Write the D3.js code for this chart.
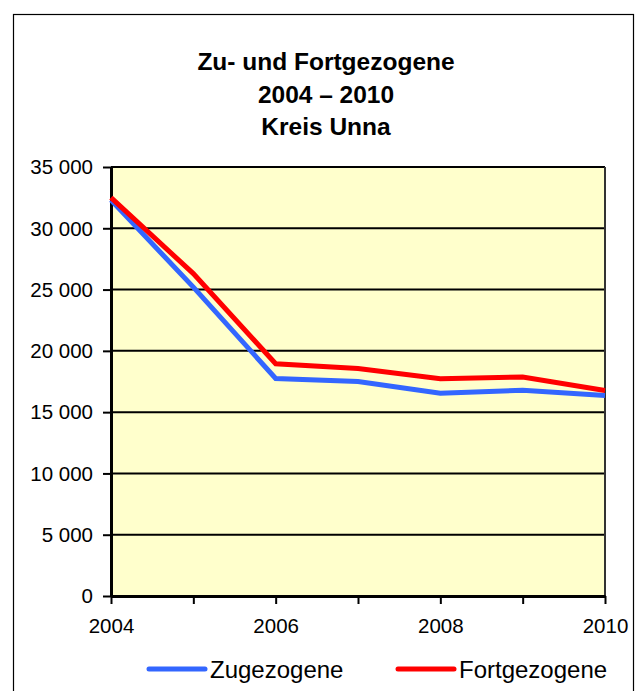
<!DOCTYPE html>
<html><head><meta charset="utf-8">
<script src="https://cdn.jsdelivr.net/npm/d3@7"></script>
<style>body{margin:0;background:#fff}svg{display:block}</style>
</head><body>
<script>
const years = [2004, 2005, 2006, 2007, 2008, 2009, 2010];
const zugezogene = [32300, 25200, 17750, 17500, 16550, 16780, 16350];
const fortgezogene = [32500, 26300, 18950, 18560, 17720, 17870, 16770];
const yTicks = [0, 5000, 10000, 15000, 20000, 25000, 30000, 35000];
const xTickLabels = [2004, 2006, 2008, 2010];
const titleLines = ["Zu- und Fortgezogene", "2004 \u2013 2010", "Kreis Unna"];
const seriesNames = ["Zugezogene", "Fortgezogene"];
const seriesColors = ["#3366FF", "#FF0000"];

const W = 643, H = 691;
const svg = d3.select("body").append("svg").attr("width", W).attr("height", H);
const font = "'Liberation Sans', Arial, sans-serif";

svg.append("rect").attr("x", 13.5).attr("y", 14.5).attr("width", 620).attr("height", 690)
  .attr("fill", "#fff").attr("stroke", "#000").attr("stroke-width", 1.2);

const x = d3.scaleLinear().domain([2004, 2010]).range([111, 605]);
const y = d3.scaleLinear().domain([0, 35000]).range([596, 167]);

svg.append("rect").attr("x", x(2004)).attr("y", y(35000))
  .attr("width", x(2010) - x(2004)).attr("height", y(0) - y(35000)).attr("fill", "#FFFFCC");

// title
svg.append("g").selectAll("text").data(titleLines).join("text")
  .attr("x", 326).attr("y", (d, i) => 70 + i * 32.5)
  .attr("text-anchor", "middle").attr("font-family", font).attr("font-weight", "bold")
  .attr("font-size", 24.5).text(d => d);

// grid
svg.append("g").selectAll("line").data(yTicks.filter(d => d > 0)).join("line")
  .attr("x1", x(2004)).attr("x2", x(2010)).attr("y1", d => y(d)).attr("y2", d => y(d))
  .attr("stroke", "#000").attr("stroke-width", 2);
svg.append("line").attr("x1", x(2010)).attr("x2", x(2010)).attr("y1", y(35000)).attr("y2", y(0))
  .attr("stroke", "#333").attr("stroke-width", 2);

// y axis
const yAxis = d3.axisLeft(y).tickValues(yTicks).tickSize(8).tickSizeOuter(0)
  .tickFormat(d => d3.format(",")(d).replace(/,/g, " "));
const gy = svg.append("g").attr("transform", `translate(${x(2004)},0)`).call(yAxis);
gy.select(".domain").attr("stroke", "#000").attr("stroke-width", 3);
gy.selectAll(".tick line").attr("stroke", "#000").attr("stroke-width", 2);
gy.selectAll(".tick text").attr("font-family", font).attr("font-size", 20.5).attr("fill", "#000")
  .attr("x", -18).attr("dy", "0.33em");

// x axis
const xAxis = d3.axisBottom(x).tickValues(years).tickSize(8).tickSizeOuter(0)
  .tickFormat(d => xTickLabels.includes(d) ? d : "");
const gx = svg.append("g").attr("transform", `translate(0,${y(0)})`).call(xAxis);
gx.select(".domain").attr("stroke", "#000").attr("stroke-width", 3);
gx.selectAll(".tick line").attr("stroke", "#000").attr("stroke-width", 2);
gx.selectAll(".tick text").attr("font-family", font).attr("font-size", 20.5).attr("fill", "#000")
  .attr("y", 37).attr("dy", 0);

// lines
const line = d3.line().x((d, i) => x(years[i])).y(d => y(d));
[zugezogene, fortgezogene].forEach((s, k) => {
  svg.append("path").datum(s).attr("d", line).attr("fill", "none")
    .attr("stroke", seriesColors[k]).attr("stroke-width", 5).attr("stroke-linejoin", "miter");
});

// legend
const legX = [149, 398];
seriesNames.forEach((n, k) => {
  svg.append("line").attr("x1", legX[k]).attr("x2", legX[k] + 56).attr("y1", 669).attr("y2", 669)
    .attr("stroke", seriesColors[k]).attr("stroke-width", 5).attr("stroke-linecap", "round");
  svg.append("text").attr("x", legX[k] + 61).attr("y", 678).attr("font-family", font)
    .attr("font-size", 24).attr("fill", "#000").text(n);
});
</script>
</body></html>
